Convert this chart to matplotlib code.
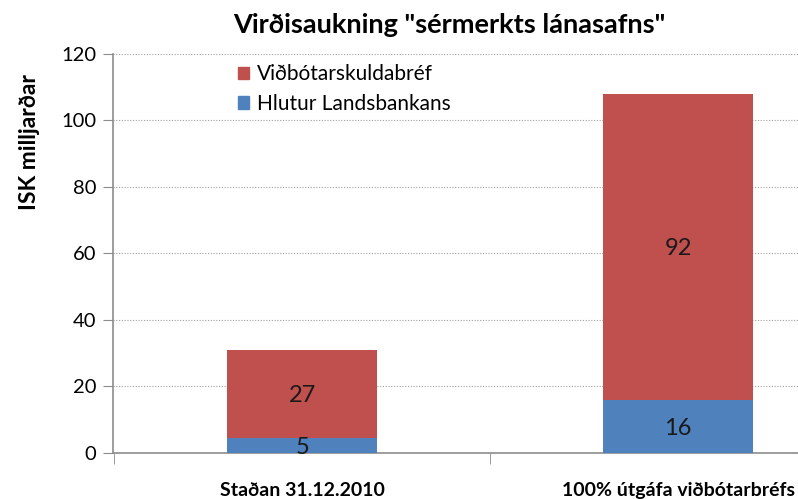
import matplotlib
matplotlib.use('Agg')
import matplotlib.pyplot as plt
from matplotlib.patches import Patch

plt.rcParams['font.family'] = ['Lato', 'DejaVu Sans']

categories = ['Staðan 31.12.2010', '100% útgáfa viðbótarbréfs']
hlutur = [4.5, 16]
vidbotar = [26.5, 92]
hlutur_labels = ['5', '16']
vidbotar_labels = ['27', '92']
yticks = [0, 20, 40, 60, 80, 100, 120]

red = '#C0504D'
blue = '#4F81BD'
grey = '#8C8C8C'

fig = plt.figure(figsize=(7.98, 4.99), dpi=100)
ax = fig.add_axes([0.1416, 0.0922, 0.8584, 0.7996])

x = list(range(len(categories)))
ax.bar(x, hlutur, width=0.40, color=blue, zorder=3)
ax.bar(x, vidbotar, width=0.40, bottom=hlutur, color=red, zorder=3)

for i in x:
    ax.text(i, hlutur[i] / 2 - 0.5, hlutur_labels[i], ha='center', va='center',
            fontsize=17, color='#1a1a1a', zorder=4)
    ax.text(i, hlutur[i] + vidbotar[i] / 2 - 0.5, vidbotar_labels[i], ha='center',
            va='center', fontsize=17, color='#1a1a1a', zorder=4)

ax.set_xlim(-0.503, 1.319)
ax.set_ylim(0, 120)
ax.set_yticks(yticks)
ax.tick_params(axis='y', labelsize=14.5, length=7, color=grey, pad=5)
ax.grid(axis='y', linestyle=(0, (1, 1.5)), color='#A0A0A0', linewidth=0.8, zorder=0)

ax.set_xticks(x)
ax.set_xticklabels(categories, fontsize=14, fontweight='bold')
ax.set_xticks([-0.5, 0.5], minor=True)
ax.tick_params(axis='x', which='major', length=0, pad=21)
ax.tick_params(axis='x', which='minor', length=8, color=grey)

for s in ['top', 'right']:
    ax.spines[s].set_visible(False)
for s in ['left', 'bottom']:
    ax.spines[s].set_color(grey)
    ax.spines[s].set_linewidth(1.2)

handles = [Patch(color=red, label='Viðbótarskuldabréf'),
           Patch(color=blue, label='Hlutur Landsbankans')]
ax.legend(handles=handles, loc='upper left', bbox_to_anchor=(0.17, 0.995),
          frameon=False, fontsize=15, handlelength=0.55, handleheight=0.55,
          handletextpad=0.35, labelspacing=0.45, borderaxespad=0)

fig.text(449 / 798, 1 - 25 / 499, 'Virðisaukning "sérmerkts lánasafns"',
         ha='center', va='center', fontsize=19.5, fontweight='bold')
fig.text(30 / 798, 1 - 142 / 499, 'ISK milljarðar', rotation=90,
         ha='center', va='center', fontsize=16.5, fontweight='bold')

fig.savefig('out.png', dpi=100)
